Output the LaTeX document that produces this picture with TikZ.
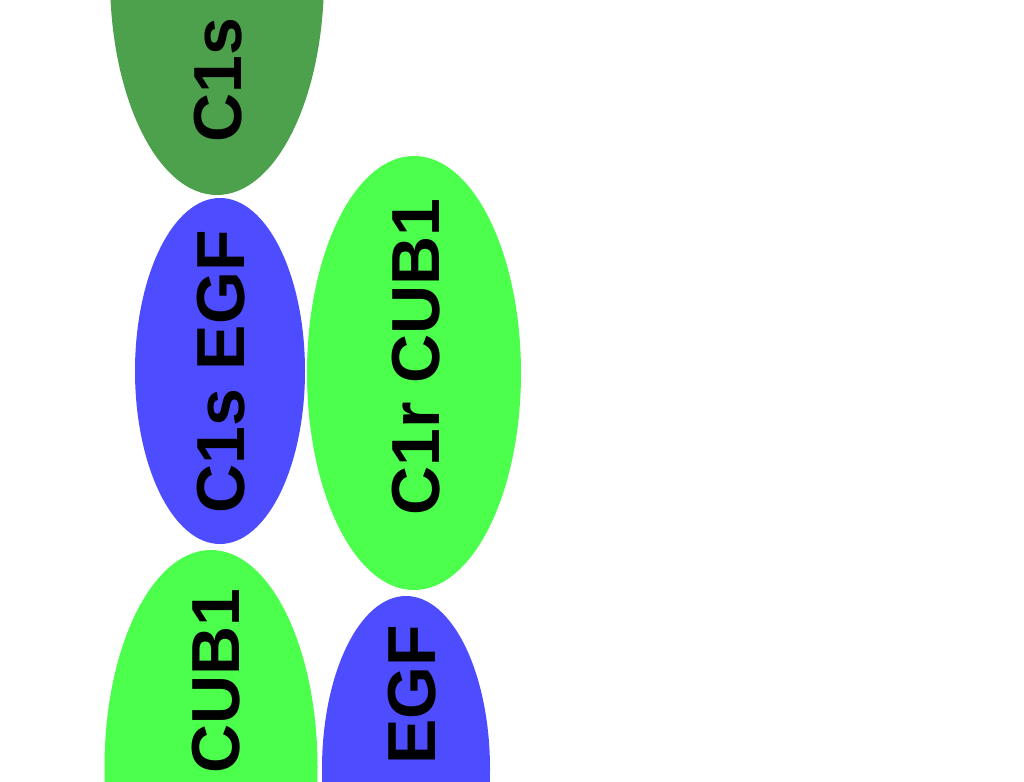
\documentclass[tikz,border=0pt]{standalone}
\usepackage{fontspec}
\setmainfont{Liberation Sans}
\usepackage{xcolor}
\usetikzlibrary{shapes.geometric,positioning}
\definecolor{domdark}{RGB}{77,161,77}
\definecolor{domgreen}{RGB}{77,255,77}
\definecolor{domblue}{RGB}{77,77,255}
\begin{document}
\begin{tikzpicture}[
    x=1pt, y=-1pt,
    dom/.style={ellipse, draw=none, inner sep=0pt},
    cub/.style={dom, fill=domgreen, minimum width=214pt, minimum height=434pt},
    egf/.style={dom, fill=domblue, minimum width=170pt, minimum height=346pt},
    sdom/.style={cub, fill=domdark},
    lbl/.style={rotate=90, inner sep=0pt, font=\fontsize{68}{80}\selectfont\bfseries},
    ]
\useasboundingbox (0,0) rectangle (1024,781);
\clip (0,0) rectangle (1024,781);
\node[sdom] (c1s) at (217,-22) {};
\node[egf] (c1segf) at (220,371) {};
\node[cub] (c1rcub) at (414,373) {};
\node[cub, minimum width=213pt] (cub) at (211,767) {};
\node[egf, minimum width=168pt] (egf) at (406,769) {};

\node[lbl] (c1sl) at (218,80) {C1s};
\node[lbl] (c1segfl) at (221,372) {C1s EGF};
\node[lbl] (c1rcubl) at (416,357) {C1r CUB1};
\node[lbl] (cubl) at (216,681) {CUB1};
\node[lbl] (egfl) at (412,695) {EGF};
\end{tikzpicture}
\end{document}
